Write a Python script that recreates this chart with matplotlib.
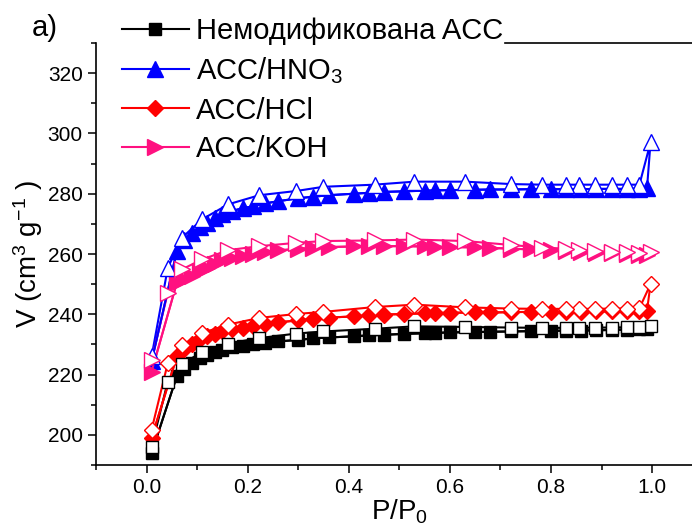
import matplotlib
matplotlib.use("Agg")
import matplotlib.pyplot as plt
from matplotlib.ticker import MultipleLocator

plt.rcParams['font.family'] = ['Liberation Sans', 'DejaVu Sans']
plt.rcParams['mathtext.fontset'] = 'custom'
plt.rcParams['mathtext.rm'] = 'Liberation Sans'
plt.rcParams['mathtext.it'] = 'Liberation Sans:italic'

# adsorption branch (filled markers)
ads_x = [0.01, 0.06, 0.075, 0.09, 0.105, 0.12, 0.135, 0.15, 0.17, 0.19, 0.21, 0.235, 0.26,
         0.30, 0.33, 0.36, 0.41, 0.44, 0.47, 0.51, 0.55, 0.57, 0.60, 0.65, 0.68, 0.72,
         0.76, 0.80, 0.83, 0.86, 0.89, 0.92, 0.95, 0.975, 0.99]
# desorption branch (open markers), from high to low pressure
des_x = [0.997, 0.975, 0.95, 0.92, 0.887, 0.856, 0.83, 0.782, 0.721, 0.63, 0.53, 0.451,
         0.35, 0.296, 0.223, 0.162, 0.11, 0.07, 0.042, 0.01]

ads_raw = [194, 219.5, 222, 223.8, 225.5, 226.5, 227.5, 228.3, 229, 229.5, 230, 230.5, 231,
           231.5, 232, 232.3, 232.7, 233, 233.2, 233.5, 233.7, 233.8, 234, 234.1, 234.2, 234.3,
           234.4, 234.5, 234.6, 234.6, 234.7, 234.8, 234.9, 235, 235.2]
des_raw = [236, 235.8, 235.7, 235.6, 235.6, 235.5, 235.5, 235.5, 235.6, 235.8, 236, 235.2,
           234.3, 233.6, 232.1, 230.3, 227.4, 223.6, 217.7, 196]

ads_hno3 = [224.4, 261, 264.5, 267, 268.8, 270.2, 271.8, 273.2, 274.3, 275.2, 275.8, 276.8, 277.5,
            278.5, 279, 279.5, 280, 280.3, 280.6, 280.8, 281, 281.1, 281.2, 281.3, 281.4, 281.4,
            281.5, 281.5, 281.5, 281.5, 281.6, 281.6, 281.6, 281.7, 281.8]
des_hno3 = [297, 283, 283, 283, 283, 283, 283, 283, 283.2, 284, 284, 283,
            282.3, 280.9, 279.5, 276.5, 271.5, 265.4, 255.4, 226]

ads_hcl = [199, 226, 228.5, 230.3, 231.8, 232.7, 233.6, 234.3, 235, 235.6, 236.1, 236.8, 237.3,
           238, 238.5, 238.9, 239.3, 239.6, 239.9, 240.1, 240.3, 240.4, 240.5, 240.6, 240.6, 240.7,
           240.8, 240.8, 240.9, 240.9, 241, 241, 241, 241.1, 241.2]
des_hcl = [250, 242, 241.9, 241.9, 241.8, 241.8, 241.8, 241.8, 241.9, 242.3, 243.2, 242.4,
           240.8, 240.1, 238.8, 236.6, 233.8, 229.7, 223.8, 201.7]

ads_koh = [221, 250.5, 251.8, 252.8, 254.2, 255.4, 256.8, 258, 258.8, 259.5, 260.1, 260.8, 261.2,
           261.7, 262, 262.3, 262.5, 262.6, 262.6, 262.6, 262.5, 262.4, 262.3, 262.2, 262, 261.8,
           261.5, 261.2, 261, 260.7, 260.4, 260.2, 260, 259.8, 259.8]
des_koh = [260.6, 260.4, 260.6, 260.6, 261, 261.3, 261.8, 262.1, 263, 264.3, 264.8, 264.5,
           264.3, 263.7, 262.6, 261.3, 258.2, 254.9, 247.1, 224.9]

labels = ['Немодификована ACC', r'ACC/HNO$_\mathregular{3}$', 'ACC/HCl', 'ACC/KOH']
colors = ['black', '#0000ff', '#ff0000', '#ff1080']
markers = ['s', '^', 'D', '>']
msizes = [9, 11, 8, 11]
series = [(ads_raw, des_raw), (ads_hno3, des_hno3), (ads_hcl, des_hcl), (ads_koh, des_koh)]

fig = plt.figure(figsize=(6.92, 5.29), dpi=100)
ax = fig.add_axes([96 / 692, 64 / 529, (702.6 - 96) / 692, (465 - 43) / 529])

handles = []
for (ya, yd), c, m, ms, lab in zip(series, colors, markers, msizes, labels):
    ax.plot(ads_x + des_x, ya + yd, color=c, linewidth=1.5, zorder=2)
    h, = ax.plot(ads_x, ya, color=c, linewidth=1.5, marker=m, markersize=ms,
                 markerfacecolor=c, markeredgecolor=c, linestyle='-', zorder=3, label=lab)
    ax.plot(des_x, yd, linestyle='none', marker=m, markersize=ms,
            markerfacecolor='white', markeredgecolor=c, markeredgewidth=1.0, zorder=4)
    handles.append(h)

ax.set_xlim(-0.1, 1.1)
ax.set_ylim(190, 330)
ax.xaxis.set_minor_locator(MultipleLocator(0.1))
ax.yaxis.set_minor_locator(MultipleLocator(10))
ax.set_xticks([0.0, 0.2, 0.4, 0.6, 0.8, 1.0])
ax.set_xticklabels(['0.0', '0.2', '0.4', '0.6', '0.8', '1.0'])
ax.set_yticks([200, 220, 240, 260, 280, 300, 320])
ax.tick_params(axis='both', which='major', direction='out', length=6, width=1.1, labelsize=15)
ax.tick_params(axis='both', which='minor', direction='out', length=3.5, width=1.1)

for s in ['left', 'bottom', 'top']:
    ax.spines[s].set_linewidth(1.2)
ax.spines['right'].set_visible(False)
ax.spines['top'].set_bounds(0.71, 1.1)

ax.set_xlabel(r'P/P$_\mathregular{0}$', fontsize=20, labelpad=0)
ax.set_ylabel(r'V (cm$^\mathregular{3}$ g$^\mathregular{-1}$ )', fontsize=20, labelpad=2)

leg = ax.legend(handles=handles, loc='upper left', bbox_to_anchor=(116 / 692, 1 - 11 / 529),
                bbox_transform=fig.transFigure, frameon=False, fontsize=21,
                handlelength=2.3, handletextpad=0.25, labelspacing=0.36,
                borderaxespad=0, borderpad=0.2)

fig.text(32 / 692, 1 - 28 / 529, 'a)', fontsize=21, va='center', ha='left')

plt.savefig('out.png', dpi=100)
